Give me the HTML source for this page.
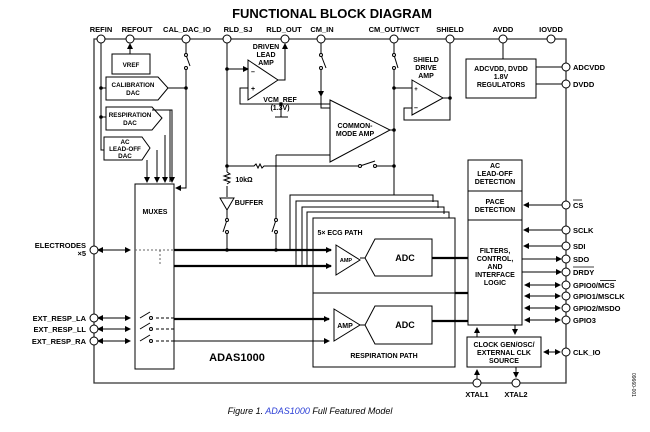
<!DOCTYPE html>
<html><head><meta charset="utf-8"><style>
html,body{margin:0;padding:0;background:#fff;}
svg{display:block;font-family:"Liberation Sans",Arial,sans-serif;font-weight:bold;}
</style></head><body>
<svg width="650" height="432" viewBox="0 0 650 432" xmlns="http://www.w3.org/2000/svg">
<defs>
<marker id="a" markerWidth="6" markerHeight="6" refX="5" refY="3" orient="auto" markerUnits="userSpaceOnUse"><path d="M0,0 L6,3 L0,6z" fill="#000"/></marker>
<marker id="b" markerWidth="6" markerHeight="6" refX="1" refY="3" orient="auto" markerUnits="userSpaceOnUse"><path d="M6,0 L0,3 L6,6z" fill="#000"/></marker>
</defs>
<text x="332" y="18" font-size="13" text-anchor="middle">FUNCTIONAL BLOCK DIAGRAM</text>
<g stroke="#333" stroke-width="1.3" fill="none">
<path d="M94,39 H566 V383 H94 Z"/>
</g>
<g font-size="7.5" text-anchor="middle">
<text x="101" y="32">REFIN</text><text x="137" y="32">REFOUT</text><text x="187" y="32">CAL_DAC_IO</text>
<text x="238" y="32">RLD_SJ</text><text x="284" y="32">RLD_OUT</text><text x="322" y="32">CM_IN</text>
<text x="394" y="32">CM_OUT/WCT</text><text x="450" y="32">SHIELD</text><text x="503" y="32">AVDD</text><text x="551" y="32">IOVDD</text>
<text x="477" y="397">XTAL1</text><text x="516" y="397">XTAL2</text>
</g>
<g font-size="7.5">
<text x="573" y="70">ADCVDD</text><text x="573" y="87">DVDD</text>
<text x="573" y="208">CS</text><line x1="573" y1="200" x2="582" y2="200" stroke="#000" stroke-width="0.8"/>
<text x="573" y="233">SCLK</text><text x="573" y="249">SDI</text><text x="573" y="262">SDO</text>
<text x="573" y="275">DRDY</text><line x1="573" y1="267" x2="594" y2="267" stroke="#000" stroke-width="0.8"/>
<text x="573" y="288">GPIO0/MCS</text><line x1="600" y1="280.5" x2="616" y2="280.5" stroke="#000" stroke-width="0.8"/>
<text x="573" y="299">GPIO1/MSCLK</text><text x="573" y="311">GPIO2/MSDO</text><text x="573" y="323">GPIO3</text>
<text x="573" y="355">CLK_IO</text>
</g>
<g font-size="7.5" text-anchor="end">
<text x="86" y="248">ELECTRODES</text><text x="86" y="256">×5</text>
<text x="86" y="321">EXT_RESP_LA</text><text x="86" y="332">EXT_RESP_LL</text><text x="86" y="344">EXT_RESP_RA</text>
</g>
<g stroke="#000" stroke-width="1" fill="none">
<rect x="112" y="54" width="38" height="20"/>
<line x1="130" y1="54" x2="130" y2="44" marker-end="url(#a)"/>
<path d="M106,77 H158 L168,88 L158,100 H106 Z"/>
<path d="M106,107 H152 L162,118 L152,130 H106 Z"/>
<path d="M104,137 H142 L150,148 L142,160 H104 Z"/>
<path d="M101,43 V150 H104"/>
<line x1="101" y1="88" x2="106" y2="88"/><line x1="101" y1="117" x2="106" y2="117"/>
<rect x="135" y="184" width="39" height="185"/>
<path d="M168,88 H186"/>
<path d="M186,43 V55 M186,68 V188 H176" />
<line x1="176" y1="188" x2="180" y2="188" marker-start="url(#b)"/>
<path d="M147,160 V182" marker-end="url(#a)"/><path d="M157,150 V182" marker-end="url(#a)"/>
<path d="M165,135 V182" marker-end="url(#a)"/><path d="M152,110 H172 V182" marker-end="url(#a)"/>
<path d="M170,110 V182" />
<path d="M227,43 V172 M227,186 V197"/>
<path d="M227,172 l3,2 l-6,2 l6,2 l-6,2 l6,2 l-3,2"/>
<path d="M220,198 H234 L227,210 Z"/>
<path d="M227,210 V220 M227,232 V250"/>
<path d="M227,69 H248" marker-end="url(#a)"/>
<path d="M248,60 L278,80 L248,100 Z"/>
<path d="M278,80 H285 V44" marker-end="url(#a)"/>
<path d="M257,104 H240 V88 H248" />
<path d="M240,104 H330"/>
<path d="M275,117 H288 M281,117 V104"/>
<path d="M330,100 L390,130 L330,162 Z"/>
<path d="M321,43 V55 M321,68 V108 H330"/>
<path d="M321,82 V96" marker-end="url(#a)"/>
<path d="M276,155 H330"/>
<path d="M276,155 V220 M276,232 V250"/>
<path d="M227,166 H254 l2,-2 l2,4 l2,-4 l2,4 l2,-2 H360 M375,166 H394"/>
<path d="M394,43 V55 M394,68 V195"/>
<path d="M390,130 H394"/>
<path d="M412,80 L443,98 L412,115 Z"/>
<path d="M394,88 H412"/><path d="M412,108 H404 V120 H450 V43"/><path d="M443,98 H450"/>
<rect x="466" y="59" width="70" height="39"/>
<path d="M503,43 V59 M536,67 H562 M536,84 H562"/>
<rect x="468" y="160" width="54" height="165"/>
<line x1="468" y1="191" x2="522" y2="191"/><line x1="468" y1="220" x2="522" y2="220"/>
<rect x="467" y="337" width="74" height="30"/>
<path d="M290,250 V195 H433 V202"/><path d="M296,266 V201 H438 V208"/><path d="M302,266 V207 H444 V214"/><path d="M307,266 V212 H449 V218"/>
<rect x="313" y="218" width="142" height="75"/>
<rect x="313" y="293" width="142" height="74"/>
<path d="M336,245 L360,260 L336,275 Z"/>
<path d="M375,239 H432 V276 H375 L365,258 Z"/><path d="M360,258 H365"/>
<path d="M334,309 L360,325 L334,341 Z"/>
<path d="M375,306 H432 V344 H375 L365,325 Z"/><path d="M360,325 H365"/>
</g>
<g stroke="#000" stroke-width="2.2" fill="none">
<path d="M174,250 H331" marker-end="url(#a)"/>
<path d="M174,266 H331" marker-end="url(#a)"/>
<path d="M174,319 H329" marker-end="url(#a)"/>
<path d="M432,258 H468 M432,321 H468 M455,293 H468"/>
</g>
<g stroke="#000" stroke-width="1" fill="none">
<path d="M174,341 H329" marker-end="url(#a)"/>
<path d="M98,250 H130" marker-start="url(#b)" marker-end="url(#a)"/>
<path d="M98,318 H130" marker-start="url(#b)" marker-end="url(#a)"/>
<path d="M98,329 H130" marker-start="url(#b)" marker-end="url(#a)"/>
<path d="M98,341 H130" marker-start="url(#b)" marker-end="url(#a)"/>
<path d="M135,250 H174 M160,250 V265" stroke-dasharray="2,2" stroke="#666"/>
<path d="M140,318 L150,312 M140,329 L150,323 M140,341 L150,335"/>
<path d="M156,318 H174 M156,329 H174 M156,341 H174" stroke-dasharray="3,2"/>
<path d="M562,205 H524" marker-end="url(#a)"/>
<path d="M562,230 H524" marker-end="url(#a)"/>
<path d="M562,246 H524" marker-end="url(#a)"/>
<path d="M522,259 H561" marker-end="url(#a)"/>
<path d="M522,272 H561" marker-end="url(#a)"/>
<path d="M525,285 H560" marker-start="url(#b)" marker-end="url(#a)"/>
<path d="M525,296 H560" marker-start="url(#b)" marker-end="url(#a)"/>
<path d="M525,308 H560" marker-start="url(#b)" marker-end="url(#a)"/>
<path d="M525,320 H560" marker-start="url(#b)" marker-end="url(#a)"/>
<path d="M544,352 H560" marker-start="url(#b)" marker-end="url(#a)"/>
<path d="M477,337 V328" marker-end="url(#a)"/><path d="M515,325 V334" marker-end="url(#a)"/>
<path d="M477,379 V370" marker-end="url(#a)"/><path d="M516,367 V377" marker-end="url(#a)"/>
<path d="M186,55 L190,66 M321,55 L326,68 M394,55 L398,68 M227,220 L223,232 M276,220 L272,232 M360,166 L375,161"/>
</g>
<g fill="#000">
<circle cx="101" cy="88" r="1.8"/><circle cx="101" cy="117" r="1.8"/><circle cx="186" cy="88" r="1.8"/>
<circle cx="227" cy="69" r="1.8"/><circle cx="227" cy="166" r="1.8"/><circle cx="227" cy="250" r="1.8"/><circle cx="276" cy="250" r="1.8"/>
<circle cx="281" cy="104" r="1.8"/><circle cx="394" cy="88" r="1.8"/><circle cx="394" cy="130" r="1.8"/><circle cx="394" cy="166" r="1.8"/><circle cx="450" cy="98" r="1.8"/>
</g>
<g fill="#fff" stroke="#000" stroke-width="1">
<circle cx="101" cy="39" r="4"/><circle cx="130" cy="39" r="4"/><circle cx="186" cy="39" r="4"/><circle cx="227" cy="39" r="4"/><circle cx="285" cy="39" r="4"/>
<circle cx="321" cy="39" r="4"/><circle cx="394" cy="39" r="4"/><circle cx="450" cy="39" r="4"/><circle cx="503" cy="39" r="4"/><circle cx="551" cy="39" r="4"/>
<circle cx="566" cy="67" r="4"/><circle cx="566" cy="84" r="4"/><circle cx="566" cy="205" r="4"/><circle cx="566" cy="230" r="4"/><circle cx="566" cy="246" r="4"/>
<circle cx="566" cy="259" r="4"/><circle cx="566" cy="272" r="4"/><circle cx="566" cy="285" r="4"/><circle cx="566" cy="296" r="4"/><circle cx="566" cy="308" r="4"/><circle cx="566" cy="320" r="4"/><circle cx="566" cy="352" r="4"/>
<circle cx="94" cy="250" r="4"/><circle cx="94" cy="318" r="4"/><circle cx="94" cy="329" r="4"/><circle cx="94" cy="341" r="4"/>
<circle cx="477" cy="383" r="4"/><circle cx="516" cy="383" r="4"/>
<circle cx="186" cy="55" r="1.5"/><circle cx="186" cy="68" r="1.5"/><circle cx="321" cy="55" r="1.5"/><circle cx="321" cy="68" r="1.5"/>
<circle cx="394" cy="55" r="1.5"/><circle cx="394" cy="68" r="1.5"/><circle cx="227" cy="220" r="1.5"/><circle cx="227" cy="232" r="1.5"/>
<circle cx="276" cy="220" r="1.5"/><circle cx="276" cy="232" r="1.5"/><circle cx="360" cy="166" r="1.5"/><circle cx="375" cy="166" r="1.5"/>
<circle cx="151" cy="318" r="1.5"/><circle cx="151" cy="329" r="1.5"/><circle cx="151" cy="341" r="1.5"/>
</g>
<g font-size="6.3" text-anchor="middle">
<text x="131" y="67">VREF</text>
<text x="133" y="87">CALIBRATION</text><text x="133" y="95">DAC</text>
<text x="130" y="117">RESPIRATION</text><text x="130" y="125">DAC</text>
<text x="125" y="144">AC</text><text x="125" y="151">LEAD-OFF</text><text x="125" y="158">DAC</text>
<text x="155" y="214" font-size="7">MUXES</text>
<text x="266" y="49" font-size="7">DRIVEN</text><text x="266" y="57" font-size="7">LEAD</text><text x="266" y="65" font-size="7">AMP</text>
<text x="253" y="74" font-size="7">–</text><text x="253" y="91" font-size="7">+</text>
<text x="280" y="102" font-size="7">VCM_REF</text><text x="280" y="110" font-size="7">(1.3V)</text>
<text x="355" y="128" font-size="7">COMMON-</text><text x="355" y="136" font-size="7">MODE AMP</text>
<text x="426" y="62" font-size="7">SHIELD</text><text x="426" y="70" font-size="7">DRIVE</text><text x="426" y="78" font-size="7">AMP</text>
<text x="416" y="91" font-size="6">+</text><text x="416" y="110" font-size="7">–</text>
<text x="501" y="71" font-size="7">ADCVDD, DVDD</text><text x="501" y="79" font-size="7">1.8V</text><text x="501" y="87" font-size="7">REGULATORS</text>
<text x="495" y="168" font-size="7">AC</text><text x="495" y="176" font-size="7">LEAD-OFF</text><text x="495" y="184" font-size="7">DETECTION</text>
<text x="495" y="204" font-size="7">PACE</text><text x="495" y="212" font-size="7">DETECTION</text>
<text x="495" y="253" font-size="7">FILTERS,</text><text x="495" y="261" font-size="7">CONTROL,</text><text x="495" y="269" font-size="7">AND</text><text x="495" y="277" font-size="7">INTERFACE</text><text x="495" y="285" font-size="7">LOGIC</text>
<text x="504" y="347" font-size="7">CLOCK GEN/OSC/</text><text x="504" y="355" font-size="7">EXTERNAL CLK</text><text x="504" y="363" font-size="7">SOURCE</text>
<text x="346" y="262" font-size="5.5">AMP</text><text x="405" y="261" font-size="9">ADC</text>
<text x="345" y="328" font-size="7">AMP</text><text x="405" y="328" font-size="9">ADC</text>
<text x="340" y="235" font-size="7">5× ECG PATH</text>
<text x="384" y="358" font-size="7">RESPIRATION PATH</text>
<text x="244" y="182" font-size="7">10kΩ</text><text x="249" y="205" font-size="7">BUFFER</text>
<text x="237" y="361" font-size="11">ADAS1000</text>
</g>
<text x="310" y="414" font-size="9" font-style="italic" font-weight="normal" text-anchor="middle">Figure 1. <tspan fill="#2b3fd6">ADAS1000</tspan> Full Featured Model</text>
<text x="632" y="373" font-size="5" font-weight="normal" transform="rotate(90 632 373)">09660-001</text>
</svg>
</body></html>
